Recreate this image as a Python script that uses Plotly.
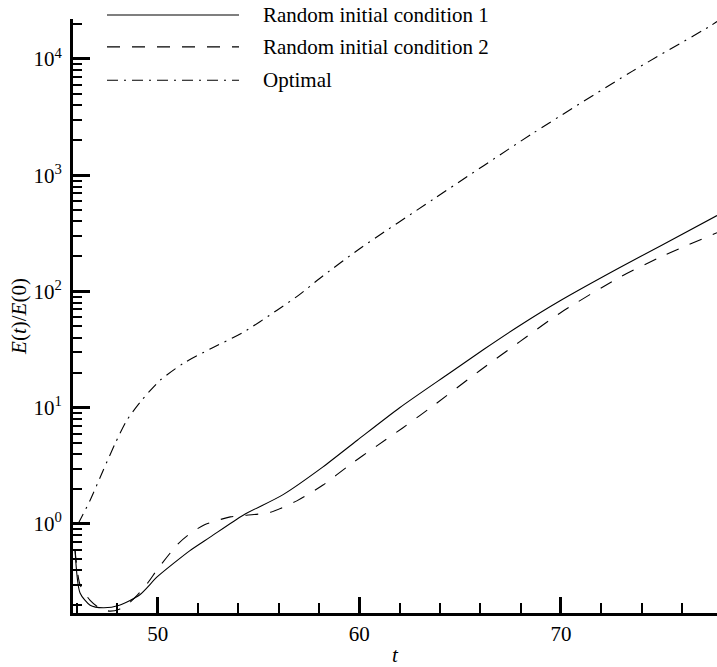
import plotly.graph_objects as go

# ---- data ----
t_rand1 = [45.9, 46.15, 46.65, 47.3, 48.1, 49.1, 49.97, 50.8, 51.6, 52.6, 54.24, 56.2, 58.2, 59.9, 62.0, 64.5, 66.2, 67.96, 70.0, 72.9, 75.0, 77.74]
e_rand1 = [0.6, 0.255, 0.2, 0.19, 0.2, 0.245, 0.35, 0.46, 0.59, 0.77, 1.19, 1.78, 3.1, 5.25, 10.0, 20.0, 32.0, 51.0, 84.0, 160.0, 250.0, 450.0]

t_rand2 = [45.9, 46.15, 46.65, 47.1, 47.6, 48.1, 48.6, 49.0, 49.5, 50.0, 50.96, 51.5, 52.3, 53.6, 54.4, 55.6, 56.9, 58.2, 59.5, 60.87, 62.15, 63.7, 66.0, 67.96, 70.0, 72.9, 75.0, 77.74]
e_rand2 = [0.6, 0.3, 0.22, 0.19, 0.178, 0.185, 0.21, 0.245, 0.31, 0.41, 0.66, 0.8, 0.98, 1.15, 1.19, 1.26, 1.58, 2.16, 3.2, 4.7, 6.7, 10.5, 21.0, 37.0, 66.0, 132.0, 200.0, 320.0]

t_opt = [46.05, 46.65, 47.3, 47.9, 48.47, 49.21, 50.12, 51.26, 52.6, 54.24, 55.92, 57.0, 58.05, 60.0, 63.66, 68.6, 73.57, 77.4, 77.74]
e_opt = [1.0, 1.6, 2.9, 4.96, 7.8, 11.6, 17.2, 24.0, 32.0, 44.5, 69.0, 93.0, 130.0, 232.0, 620.0, 2290.0, 7900.0, 19200.0, 21000.0]

series_names = ["Random initial condition 1", "Random initial condition 2", "Optimal"]
x_ticks = [50, 60, 70]
y_ticks = [1, 10, 100, 1000, 10000]
y_tick_labels = ["10<sup>0</sup>", "10<sup>1</sup>", "10<sup>2</sup>", "10<sup>3</sup>", "10<sup>4</sup>"]

FONT = "Times New Roman, Liberation Serif, serif"
FS = 21
dashes = ["solid", "13px,12px", "11px,6px,2px,6px"]

fig = go.Figure()
for tx, ey, nm, ds in zip([t_rand1, t_rand2, t_opt], [e_rand1, e_rand2, e_opt], series_names, dashes):
    fig.add_trace(go.Scatter(x=tx, y=ey, mode="lines", name=nm, showlegend=False,
                             line=dict(color="black", width=1.1, dash=ds, shape="spline", smoothing=0.7)))

# custom legend (long line samples like the original)
leg_y = [1.0067, 0.953, 0.897]
for nm, ds, yy in zip(series_names, dashes, leg_y):
    fig.add_shape(type="line", xref="paper", yref="paper", x0=0.0528, x1=0.2578, y0=yy, y1=yy,
                  line=dict(color="black", width=1.1, dash=ds))
    fig.add_annotation(xref="paper", yref="paper", x=0.292, y=yy, text=nm, showarrow=False,
                       xanchor="left", yanchor="middle", font=dict(family=FONT, size=FS, color="black"))

fig.update_layout(
    width=717, height=667,
    margin=dict(l=73, r=0, t=19, b=54),
    paper_bgcolor="white", plot_bgcolor="white",
    font=dict(family=FONT, size=FS, color="black"),
    showlegend=False,
)
fig.update_xaxes(range=[45.80, 77.74], tickvals=x_ticks, ticks="inside", ticklen=16, tickwidth=3,
                 tickcolor="black", showline=True, linewidth=3, linecolor="black", showgrid=False,
                 zeroline=False, tickfont=dict(family=FONT, size=FS, color="black"),
                 minor=dict(dtick=2, ticks="inside", ticklen=10, tickwidth=1.5, tickcolor="black", showgrid=False),
                 title=dict(text="<i>t</i>", font=dict(family=FONT, size=FS, color="black"), standoff=6))
fig.update_yaxes(type="log", range=[-0.766, 4.344], tickvals=y_ticks, ticktext=y_tick_labels,
                 ticks="inside", ticklen=17, tickwidth=3, tickcolor="black",
                 showline=True, linewidth=3, linecolor="black", showgrid=False, zeroline=False,
                 tickfont=dict(family=FONT, size=FS, color="black"), ticklabelstandoff=4,
                 minor=dict(dtick="D1", ticks="inside", ticklen=9, tickwidth=1.5, tickcolor="black", showgrid=False),
                 title=dict(text="<i>E</i>(<i>t</i>)/<i>E</i>(0)", font=dict(family=FONT, size=FS, color="black"), standoff=2))

fig.write_html("out.html")
